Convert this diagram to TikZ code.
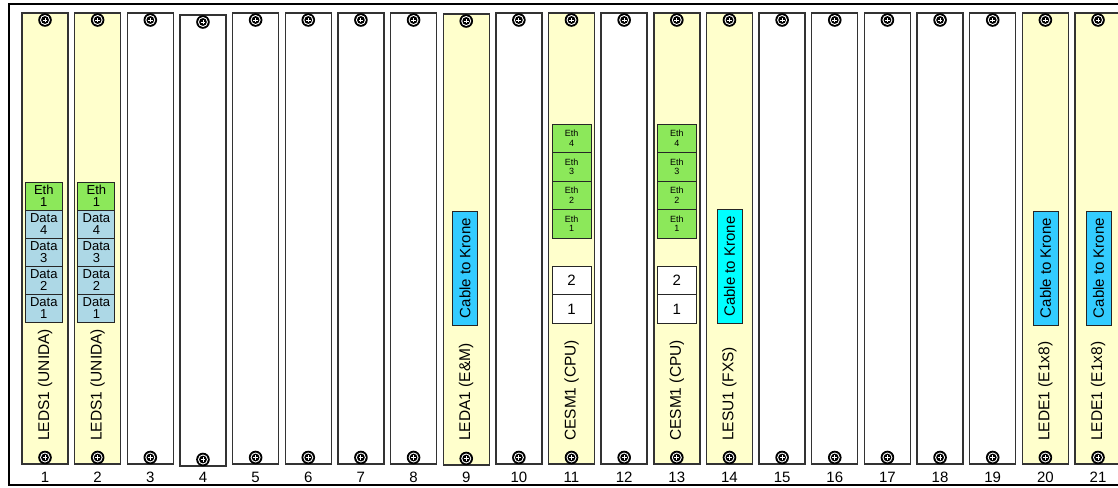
\documentclass[tikz,border=0pt]{standalone}
\usepackage{fontspec}
\setmainfont{Liberation Sans}
\definecolor{cardyellow}{HTML}{FFFFCC}
\definecolor{ethgreen}{RGB}{140,232,90}
\definecolor{datablue}{RGB}{173,216,230}
\definecolor{cableblue}{RGB}{51,204,255}
\definecolor{cablecyan}{RGB}{0,255,255}
\begin{document}
\begin{tikzpicture}[x=1pt,y=-1pt,
  card/.style={draw=black!80, line width=1.4pt, minimum width=46pt,
    minimum height=451pt, inner sep=0pt},
  num/.style={font=\fontsize{15}{18}\selectfont, inner sep=0pt},
  cardlabel/.style={rotate=90, anchor=west, inner sep=0pt,
    font=\fontsize{15.5}{18}\selectfont},
  cable/.style={draw=black!85, line width=1pt, rotate=90, minimum width=114pt,
    minimum height=25pt, inner sep=0pt, font=\fontsize{15}{18}\selectfont},
  portA/.style={draw=black!85, line width=1pt, minimum width=37pt,
    minimum height=28pt, inner sep=0pt, align=center,
    font=\fontsize{13}{12}\selectfont},
  portB/.style={draw=black!85, line width=1pt, minimum width=39pt,
    minimum height=28.5pt, inner sep=0pt, align=center, fill=ethgreen,
    font=\fontsize{9}{9.5}\selectfont},
  portW/.style={draw=black!85, line width=1pt, minimum width=39pt,
    minimum height=28.5pt, inner sep=0pt, fill=white,
    font=\fontsize{15}{18}\selectfont},
  screw/.pic={
    \fill[black] (0,0) circle (6.8pt);
    \fill[white] (0,0) circle (5pt);
    \fill[black] (0,0) circle (3.9pt);
    \draw[white, line width=0.9pt] (-2.4pt,0) -- (2.4pt,0) (0,-2.4pt) -- (0,2.4pt);
  }]
\useasboundingbox (0,0) rectangle (1118,487);
\fill[white] (0,0) rectangle (1118,487);

% rack frame (right side runs past the page edge)
\draw[line width=2.4pt] (1130,4) -- (9,4) -- (9,485) -- (1130,485);

% slots: number / panel colour / vertical offset
\foreach \i/\f/\dy in {1/cardyellow/0, 2/cardyellow/0, 3/white/0, 4/white/2,
    5/white/0, 6/white/0, 7/white/0, 8/white/0, 9/cardyellow/1, 10/white/0,
    11/cardyellow/0, 12/white/0, 13/cardyellow/0, 14/cardyellow/0,
    15/white/0, 16/white/0, 17/white/0, 18/white/0, 19/white/0,
    20/cardyellow/0, 21/cardyellow/0}{
  \pgfmathsetmacro\xc{45+(\i-1)*52.65}
  \pgfmathsetmacro\yc{238.5+\dy}
  \pgfmathsetmacro\yt{20+\dy}
  \pgfmathsetmacro\yb{457.5+\dy}
  \node[card, fill=\f] (slot\i) at (\xc,\yc) {};
  \pic at (\xc,\yt) {screw};
  \pic at (\xc,\yb) {screw};
  \node[num] (n\i) at (\xc,477) {\i};
}

% data/ethernet ports of the UNIDA cards
\foreach \s in {1,2}{
  \pgfmathsetmacro\bx{45+(\s-1)*52.65-1.2}
  \node[portA, fill=ethgreen] (s\s-eth1) at (\bx,196) {Eth\\1};
  \foreach \k [count=\j] in {4,3,2,1}{
    \pgfmathsetmacro\by{196+28*\j}
    \node[portA, fill=datablue] (s\s-data\k) at (\bx,\by) {Data\\\k};
  }
}

% CPU cards: four ethernet ports and two numbered ports
\foreach \s in {11,13}{
  \pgfmathsetmacro\bx{45+(\s-1)*52.65}
  \foreach \k [count=\j] in {4,3,2,1}{
    \pgfmathsetmacro\by{138.25+28.5*(\j-1)}
    \node[portB] (s\s-eth\k) at (\bx,\by) {Eth\\\k};
  }
  \node[portW] (s\s-p2) at (\bx,280.5) {2};
  \node[portW] (s\s-p1) at (\bx,309) {1};
}

% Krone cable tags
\node[cable, fill=cableblue] (s9-cable)  at (465,268) {Cable to Krone};
\node[cable, fill=cablecyan] (s14-cable) at (729.5,266.5) {Cable to Krone};
\node[cable, fill=cableblue] (s20-cable) at (1045.5,268) {Cable to Krone};
\node[cable, fill=cableblue] (s21-cable) at (1098.5,268) {Cable to Krone};

% card names
\node[cardlabel] (s1-label)  at (45,441)     {LEDS1 (UNIDA)};
\node[cardlabel] (s2-label)  at (97.65,441)  {LEDS1 (UNIDA)};
\node[cardlabel] (s9-label)  at (466.2,441)  {LEDA1 (E\&M)};
\node[cardlabel] (s11-label) at (571.5,441)  {CESM1 (CPU)};
\node[cardlabel] (s13-label) at (676.8,441)  {CESM1 (CPU)};
\node[cardlabel] (s14-label) at (729.45,441) {LESU1 (FXS)};
\node[cardlabel] (s20-label) at (1045.35,441) {LEDE1 (E1x8)};
\node[cardlabel] (s21-label) at (1098,441)   {LEDE1 (E1x8)};
\end{tikzpicture}
\end{document}
